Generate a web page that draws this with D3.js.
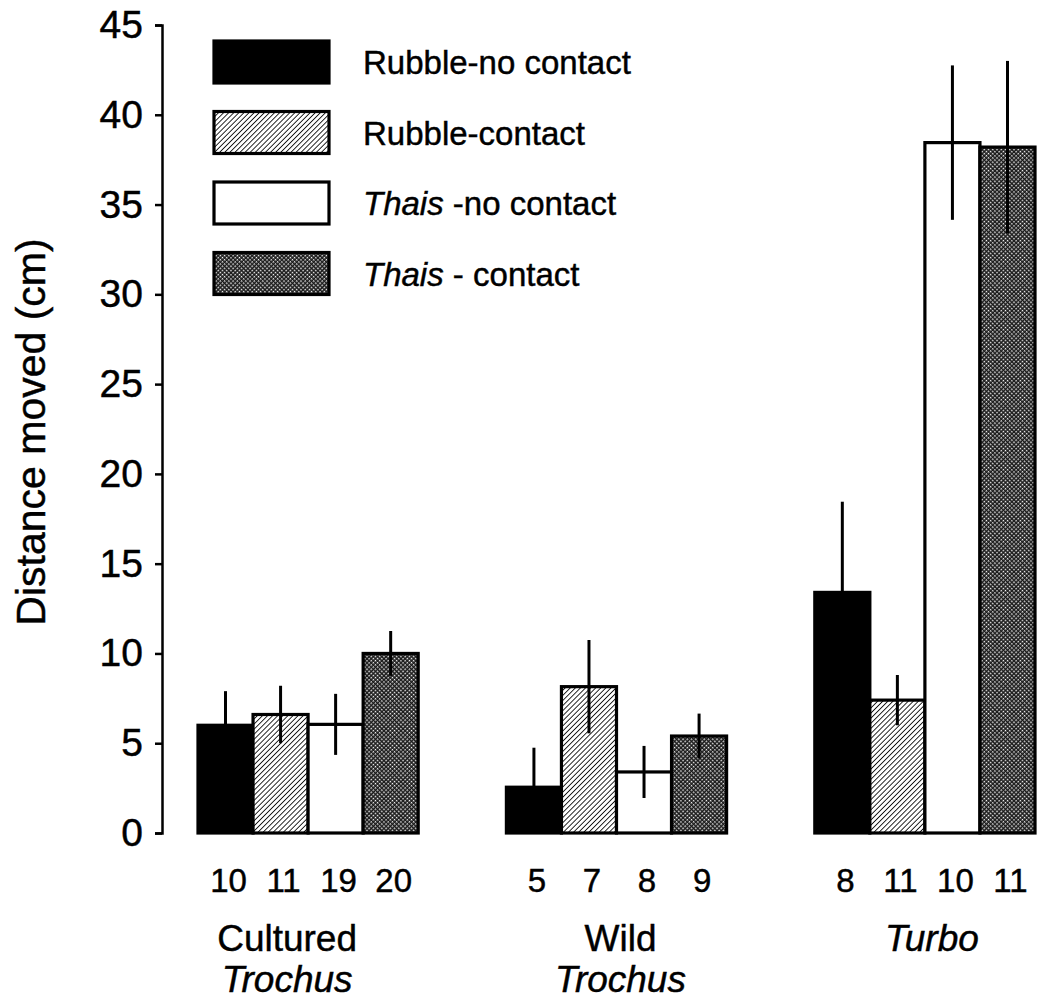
<!DOCTYPE html>
<html>
<head>
<meta charset="utf-8">
<script src="https://cdn.jsdelivr.net/npm/d3@7"></script>
<style>
  html, body { margin: 0; padding: 0; background: #fff; }
  svg { display: block; font-family: "Liberation Sans", Arial, sans-serif; }
  svg text { stroke: #000; stroke-width: 0.45px; fill: #000; }
</style>
</head>
<body>
<svg id="chart" width="1048" height="999"></svg>
<script>
// Snail groups and treatments
const groups = ["Cultured Trochus", "Wild Trochus", "Turbo"];
const series = ["Rubble-no contact", "Rubble-contact", "Thais -no contact", "Thais - contact"];

// Mean distance moved (cm), one value per group
const rubbleNoContact = [6.0, 2.55, 13.4];
const rubbleContact   = [6.6, 8.15, 7.4];
const thaisNoContact  = [6.05, 3.4, 38.45];
const thaisContact    = [10.0, 5.4, 38.2];

// Standard errors
const rubbleNoContactSE = [1.9, 2.2, 5.05];
const rubbleContactSE   = [1.6, 2.6, 1.4];
const thaisNoContactSE  = [1.7, 1.45, 4.3];
const thaisContactSE    = [1.25, 1.25, 4.8];

// Sample sizes printed under each bar
const sampleSizes = [[10, 11, 19, 20], [5, 7, 8, 9], [8, 11, 10, 11]];

// Axis
const yTicks = [0, 5, 10, 15, 20, 25, 30, 35, 40, 45];
const yTitle = "Distance moved (cm)";

// Group captions: [upright line, italic line]
const groupCaptions = [["Cultured", "Trochus"], ["Wild", "Trochus"], [null, "Turbo"]];

const means = [rubbleNoContact, rubbleContact, thaisNoContact, thaisContact];
const ses = [rubbleNoContactSE, rubbleContactSE, thaisNoContactSE, thaisContactSE];

const svg = d3.select("#chart");
const defs = svg.append("defs");

// Fill patterns
const hatch = defs.append("pattern")
  .attr("id", "hatch").attr("patternUnits", "userSpaceOnUse")
  .attr("width", 3.6).attr("height", 3.6)
  .attr("patternTransform", "rotate(45)");
hatch.append("rect").attr("width", 3.6).attr("height", 3.6).attr("fill", "#fff");
hatch.append("line").attr("x1", 0).attr("y1", 0).attr("x2", 0).attr("y2", 3.6)
  .attr("stroke", "#111").attr("stroke-width", 1.8);

const stipple = defs.append("pattern")
  .attr("id", "stipple").attr("patternUnits", "userSpaceOnUse")
  .attr("width", 3).attr("height", 3)
  .attr("patternTransform", "rotate(45)");
stipple.append("rect").attr("width", 3).attr("height", 3).attr("fill", "#1a1a1a");
stipple.append("rect").attr("x", 0).attr("y", 0).attr("width", 1.45).attr("height", 1.45).attr("fill", "#fff");

const fills = ["#000", "url(#hatch)", "#fff", "url(#stipple)"];

// Scales
const y = d3.scaleLinear().domain([0, 45]).range([833, 25]);
const x0 = d3.scaleBand().domain(groups).range([198, 1035]).paddingInner(0.286).paddingOuter(0);
const x1 = d3.scaleBand().domain(series).range([0, x0.bandwidth()]).padding(0);

// Y axis
const yAxis = d3.axisLeft(y).tickValues(yTicks).tickSize(7).tickPadding(12).tickSizeOuter(7);
const gy = svg.append("g").attr("transform", "translate(162,0)").call(yAxis);
gy.select(".domain").attr("stroke", "#000").attr("stroke-width", 2.5);
gy.selectAll(".tick line").attr("stroke", "#000").attr("stroke-width", 2.5);
gy.selectAll(".tick text").attr("font-size", 39).attr("fill", "#000")
  .attr("font-family", "Liberation Sans, Arial, sans-serif");

svg.append("text")
  .attr("transform", "translate(45,432) rotate(-90)")
  .attr("text-anchor", "middle")
  .attr("font-size", 41)
  .text(yTitle);

// Bars
const flat = [];
groups.forEach((g, gi) => {
  series.forEach((s, si) => {
    flat.push({ g, s, gi, si, v: means[si][gi], se: ses[si][gi], n: sampleSizes[gi][si] });
  });
});

const barG = svg.append("g");
barG.selectAll("rect.bar").data(flat).join("rect")
  .attr("class", "bar")
  .attr("x", d => x0(d.g) + x1(d.s))
  .attr("y", d => y(d.v))
  .attr("width", x1.bandwidth())
  .attr("height", d => y(0) - y(d.v))
  .attr("fill", d => fills[d.si])
  .attr("stroke", "#000")
  .attr("stroke-width", 3.2);

// Error bars
barG.selectAll("line.err").data(flat).join("line")
  .attr("class", "err")
  .attr("x1", d => x0(d.g) + x1(d.s) + x1.bandwidth() / 2)
  .attr("x2", d => x0(d.g) + x1(d.s) + x1.bandwidth() / 2)
  .attr("y1", d => y(d.v - d.se))
  .attr("y2", d => y(d.v + d.se))
  .attr("stroke", "#000")
  .attr("stroke-width", 3);

// Sample sizes
svg.append("g").selectAll("text").data(flat).join("text")
  .attr("x", d => x0(d.g) + x1(d.s) + x1.bandwidth() / 2 + 3)
  .attr("y", 892)
  .attr("text-anchor", "middle")
  .attr("font-size", 33)
  .text(d => d.n);

// Group captions
const captionShift = [-21, 4, 7];
const capG = svg.append("g");
groupCaptions.forEach((c, gi) => {
  const cx = x0(groups[gi]) + x0.bandwidth() / 2 + captionShift[gi];
  if (c[0]) {
    capG.append("text").attr("x", cx).attr("y", 951).attr("text-anchor", "middle")
      .attr("font-size", 37).text(c[0]);
    capG.append("text").attr("x", cx).attr("y", 992).attr("text-anchor", "middle")
      .attr("font-size", 37).attr("font-style", "italic").text(c[1]);
  } else {
    capG.append("text").attr("x", cx).attr("y", 951).attr("text-anchor", "middle")
      .attr("font-size", 37).attr("font-style", "italic").text(c[1]);
  }
});

// Legend
const legend = svg.append("g").attr("transform", "translate(214,41)");
const legItems = legend.selectAll("g").data(series).join("g")
  .attr("transform", (d, i) => `translate(0,${i * 70.5})`);
legItems.append("rect")
  .attr("width", 115).attr("height", 42)
  .attr("fill", (d, i) => fills[i])
  .attr("stroke", "#000").attr("stroke-width", 3.2);
legItems.append("text")
  .attr("x", 149).attr("y", 33)
  .attr("font-size", 33)
  .each(function(d) {
    const t = d3.select(this);
    if (d.startsWith("Thais")) {
      t.append("tspan").attr("font-style", "italic").text("Thais");
      t.append("tspan").text(d.slice(5));
    } else {
      t.text(d);
    }
  });
</script>
</body>
</html>
